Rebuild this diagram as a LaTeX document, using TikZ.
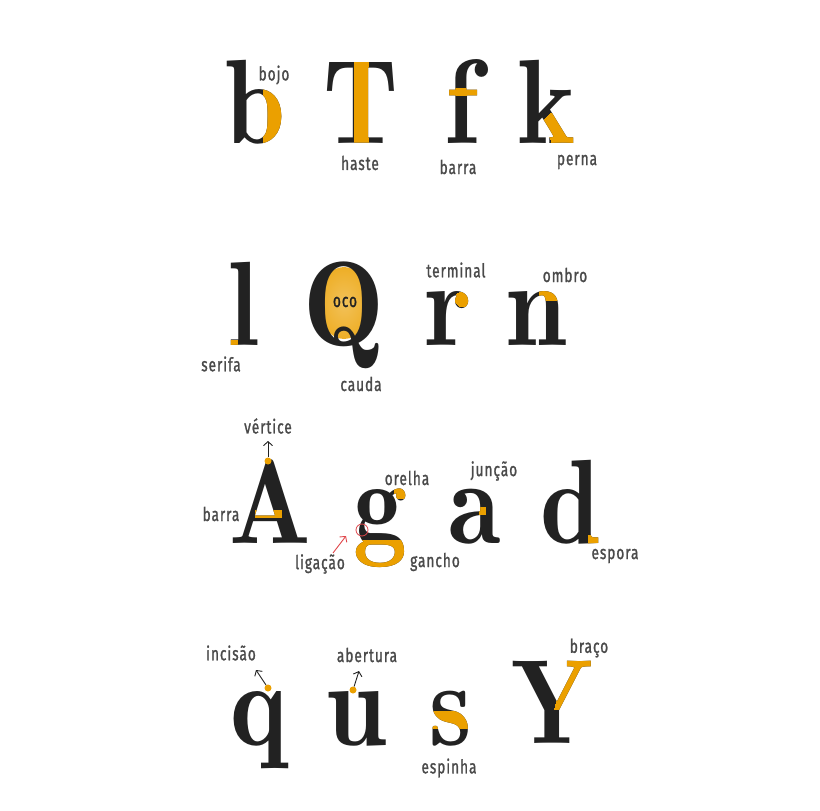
\documentclass[tikz,border=0pt]{standalone}
\usepackage{fontspec}
\usetikzlibrary{arrows.meta,shapes.geometric}
\newfontfamily\glyphfont{lmromandemi10-regular}[Extension=.otf,FakeStretch=0.9]
\newfontfamily\labfont{Fira Sans}[FakeStretch=0.72,LetterSpace=5,FakeBold=1.2]
\definecolor{atink}{HTML}{222222}
\definecolor{atorange}{HTML}{EBA000}
\definecolor{atgrey}{HTML}{4A4A4A}
\definecolor{atred}{HTML}{E0474C}
\tikzset{
  glyph/.style={anchor=base,inner sep=0pt,text=atink,
                font=\glyphfont\fontsize{120}{120}\selectfont},
  lab/.style={inner sep=0pt,text=atgrey,font=\labfont\fontsize{19}{19}\selectfont},
  dot/.style={circle,fill=atorange,inner sep=0pt,minimum size=7pt},
  ring/.style={circle,draw=atred,line width=0.8pt,inner sep=0pt,minimum size=12pt},
  pointer/.style={-{Straight Barb[length=4pt,width=9pt]},line width=0.9pt,atink},
  redpointer/.style={-{Straight Barb[length=4pt,width=9pt]},line width=0.9pt,atred},
}
% orange part of a letter: #1 node, #2 letter, #3 clip path
\newcommand\hlpart[3]{%
  \begin{scope}[shift={(#1.base)}]
    \clip #3;
    \node[glyph,text=atorange] at (0,0) {#2};
  \end{scope}}

\begin{document}
\begin{tikzpicture}[x=1pt,y=-1pt]
  \useasboundingbox[fill=white] (0,0) rectangle (820,811);
  % row 1
  \node[glyph] (b) at (256,143) {b};
  \node[glyph] (T) at (361,143) {T};
  \node[glyph] (f) at (462,143) {f};
  \node[glyph] (k) at (547,143) {k};
  \hlpart{b}{b}{(7,-58) rectangle (40,5)}
  \hlpart{T}{T}{(-7,-90) rectangle (7,2)}
  \hlpart{f}{f}{(-25,-55) rectangle (25,-47.5)}
  \hlpart{k}{k}{(-5,-22) -- (3,-30) -- (40,-30) -- (40,3) -- (6,3) -- cycle}
  \node[lab] (bojo) at (274,75) {bojo};
  \node[lab] (haste) at (360,163) {haste};
  \node[lab] (barraf) at (458,167) {barra};
  \node[lab] (perna) at (577,162) {perna};
  % row 2
  \node[ellipse,inner sep=0pt,minimum width=52pt,minimum height=72pt,
        inner color=atorange!65,outer color=atorange!85] (oco) at (344,303) {};
  \node[glyph] (l) at (244,345) {l};
  \node[glyph] (Q) at (344,345) {Q};
  \node[glyph] (r) at (449,345) {r};
  \node[glyph] (n) at (537,345) {n};
  \hlpart{l}{l}{(-20,-5) rectangle (-7,2)}
  \hlpart{r}{r}{(13.5,-46) circle (8)}
  \hlpart{n}{n}{(2,-57) rectangle (22,-45)}
  \node[lab,text=atink] (ocolab) at (345,302) {oco};
  \node[lab] (terminal) at (456,270) {terminal};
  \node[lab] (ombro) at (565,275) {ombro};
  \node[lab] (serifa) at (221,364) {serifa};
  \node[lab] (cauda) at (361,384) {cauda};
  % row 3
  \node[glyph] (A) at (270,543) {A};
  \node[glyph] (g) at (380,543) {g};
  \node[glyph] (a) at (475,543) {a};
  \node[glyph] (d) at (571,543) {d};
  \hlpart{A}{A}{(-15,-33) rectangle (11,-26)}
  \hlpart{g}{g}{(-40,-3) rectangle (40,30)}
  \hlpart{g}{g}{(14,-57) rectangle (30,-45)}
  \hlpart{a}{a}{(4,-36) rectangle (10,-29)}
  \hlpart{d}{d}{(17,-8) rectangle (36,3)}
  \node[dot] (apex) at (268,461) {};
  \coordinate (apextip) at (268,441);
  \draw[pointer] (apex) -- (apextip);
  \node[ring] (link) at (362,530) {};
  \coordinate (linktail) at (333,553);
  \coordinate (linktip) at (346,536);
  \draw[redpointer] (linktail) -- (linktip);
  \node[lab] (vertice) at (268,426) {vértice};
  \node[lab] (barraA) at (221,514) {barra};
  \node[lab] (orelha) at (407,478) {orelha};
  \node[lab] (juncao) at (494,471) {junção};
  \node[lab] (ligacao) at (320,564) {ligação};
  \node[lab] (gancho) at (435,562) {gancho};
  \node[lab] (espora) at (615,556) {espora};
  % row 4
  \node[glyph] (q) at (259,745) {q};
  \node[glyph] (u) at (357,745) {u};
  \node[glyph] (s) at (451,745) {s};
  \node[glyph] (Y) at (552,743) {Y};
  \hlpart{s}{s}{(-25,-34) rectangle (25,-17)}
  \hlpart{Y}{Y}{(2,-34) -- (16,-90) -- (55,-90) -- (55,-34) -- cycle}
  \node[dot] (notch) at (268,688) {};
  \coordinate (notchtip) at (256,670);
  \draw[pointer] (notch) -- (notchtip);
  \node[dot] (opening) at (353,690) {};
  \coordinate (openingtip) at (359,671);
  \draw[pointer] (opening) -- (openingtip);
  \node[lab] (incisao) at (231,653) {incisão};
  \node[lab] (abertura) at (367,655) {abertura};
  \node[lab] (braco) at (589,648) {braço};
  \node[lab] (espinha) at (449,768) {espinha};
\end{tikzpicture}
\end{document}
